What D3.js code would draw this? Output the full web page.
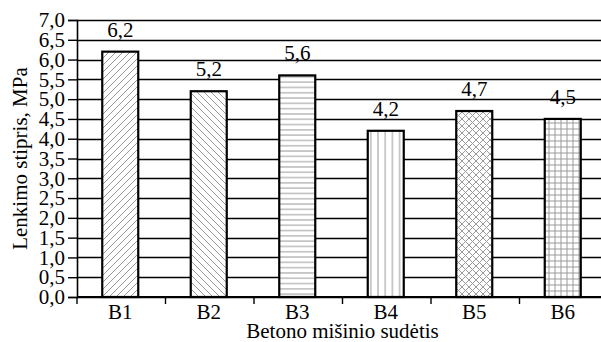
<!DOCTYPE html>
<html><head><meta charset="utf-8">
<script src="https://cdn.jsdelivr.net/npm/d3@7"></script>
<style>body{margin:0;background:#fff}svg{display:block}</style>
</head><body>
<script>
const categories = ["B1","B2","B3","B4","B5","B6"];
const values = [6.2, 5.2, 5.6, 4.2, 4.7, 4.5];
const valueLabels = ["6,2","5,2","5,6","4,2","4,7","4,5"];
const patterns = ["diagUp","diagDown","horiz","vert","cross","grid"];
const yTicks = [0,0.5,1,1.5,2,2.5,3,3.5,4,4.5,5,5.5,6,6.5,7];
const xTitle = "Betono mišinio sudėtis";
const yTitle = "Lenkimo stipris, MPa";

const W = 601, H = 342;
const FS = 21;
const FF = "'Liberation Serif', 'DejaVu Serif', serif";
const svg = d3.select("body").append("svg").attr("width", W).attr("height", H)
  .attr("font-family", FF);
const defs = svg.append("defs");
const gray = "#9a9a9a";

function pat(id, size, draw){
  const p = defs.append("pattern").attr("id", id).attr("patternUnits","userSpaceOnUse")
    .attr("width", size).attr("height", size);
  p.append("rect").attr("width", size).attr("height", size).attr("fill","#fff");
  draw(p, size);
}
pat("diagUp", 7, (p,s)=>{
  p.append("path").attr("d",`M0,${s} L${s},0 M${-s/2},${s/2} L${s/2},${-s/2} M${s/2},${s*1.5} L${s*1.5},${s/2}`).attr("stroke",gray).attr("stroke-width",1);
});
pat("diagDown", 7, (p,s)=>{
  p.append("path").attr("d",`M0,0 L${s},${s} M${-s/2},${s/2} L${s/2},${s*1.5} M${s/2},${-s/2} L${s*1.5},${s/2}`).attr("stroke",gray).attr("stroke-width",1);
});
pat("horiz", 5.3, (p,s)=>{
  p.append("path").attr("d",`M0,${s/2} L${s},${s/2}`).attr("stroke",gray).attr("stroke-width",1);
});
pat("vert", 7.2, (p,s)=>{
  p.append("path").attr("d",`M${s/2},0 L${s/2},${s}`).attr("stroke",gray).attr("stroke-width",1);
});
pat("cross", 7, (p,s)=>{
  p.append("path").attr("d",`M0,0 L${s},${s} M0,${s} L${s},0`).attr("stroke",gray).attr("stroke-width",1);
});
pat("grid", 6, (p,s)=>{
  p.append("path").attr("d",`M0,${s/2} L${s},${s/2} M${s/2},0 L${s/2},${s}`).attr("stroke",gray).attr("stroke-width",1);
});

const x0 = 77, x1 = 608, yTop = 20, yBot = 297;
const x = d3.scaleBand().domain(categories).range([x0, x1]).padding(0);
const y = d3.scaleLinear().domain([0, 7]).range([yBot, yTop]);
const fmt = v => d3.format(".1f")(v).replace(".", ",");

// gridlines
svg.append("g").selectAll("line").data(yTicks).join("line")
  .attr("x1", x0).attr("x2", W).attr("y1", d=>Math.round(y(d))+0.5).attr("y2", d=>Math.round(y(d))+0.5)
  .attr("stroke","#000").attr("stroke-width",1.4);

// y axis
const ya = svg.append("g").attr("transform",`translate(${x0},0)`)
  .call(d3.axisLeft(y).tickValues(yTicks).tickFormat(fmt).tickSize(9).tickPadding(3));
ya.attr("font-family", FF).attr("font-size", FS);
ya.select(".domain").attr("stroke","#000").attr("stroke-width",1.6);
ya.selectAll(".tick line").attr("stroke","#000").attr("stroke-width",1.4);
ya.selectAll(".tick text").attr("fill","#000").attr("font-family", FF).attr("font-size", FS);

// bars
const bw = 36;
svg.append("g").selectAll("rect").data(categories).join("rect")
  .attr("x", d => x(d) + x.bandwidth()/2 - bw/2 - 1)
  .attr("y", (d,i) => y(values[i]))
  .attr("width", bw).attr("height", (d,i) => y(0) - y(values[i]))
  .attr("fill", (d,i) => `url(#${patterns[i]})`)
  .attr("stroke","#000").attr("stroke-width",2.2);

// value labels
svg.append("g").selectAll("text").data(categories).join("text")
  .attr("x", d => x(d) + x.bandwidth()/2 - 1)
  .attr("y", (d,i) => y(values[i]) - 15)
  .attr("text-anchor","middle").attr("font-family", FF).attr("font-size",FS)
  .text((d,i) => valueLabels[i]);

// x axis
svg.append("line").attr("x1", x0).attr("x2", W).attr("y1", yBot).attr("y2", yBot)
  .attr("stroke","#000").attr("stroke-width",2);
svg.append("g").selectAll("line").data(categories).join("line")
  .attr("x1", d => x(d)).attr("x2", d => x(d)).attr("y1", yBot).attr("y2", yBot+7)
  .attr("stroke","#000").attr("stroke-width",1.4);
svg.append("g").selectAll("text").data(categories).join("text")
  .attr("x", d => x(d) + x.bandwidth()/2 - 1).attr("y", 319)
  .attr("text-anchor","middle").attr("font-family", FF).attr("font-size",FS).text(d => d);

// titles
svg.append("text").attr("x", (x0 + x1)/2).attr("y", 338).attr("text-anchor","middle")
  .attr("font-family", FF).attr("font-size",FS).text(xTitle);
svg.append("text").attr("transform",`translate(27,${(yTop+yBot)/2}) rotate(-90)`)
  .attr("text-anchor","middle").attr("font-family", FF).attr("font-size",FS).text(yTitle);
</script>
</body></html>
